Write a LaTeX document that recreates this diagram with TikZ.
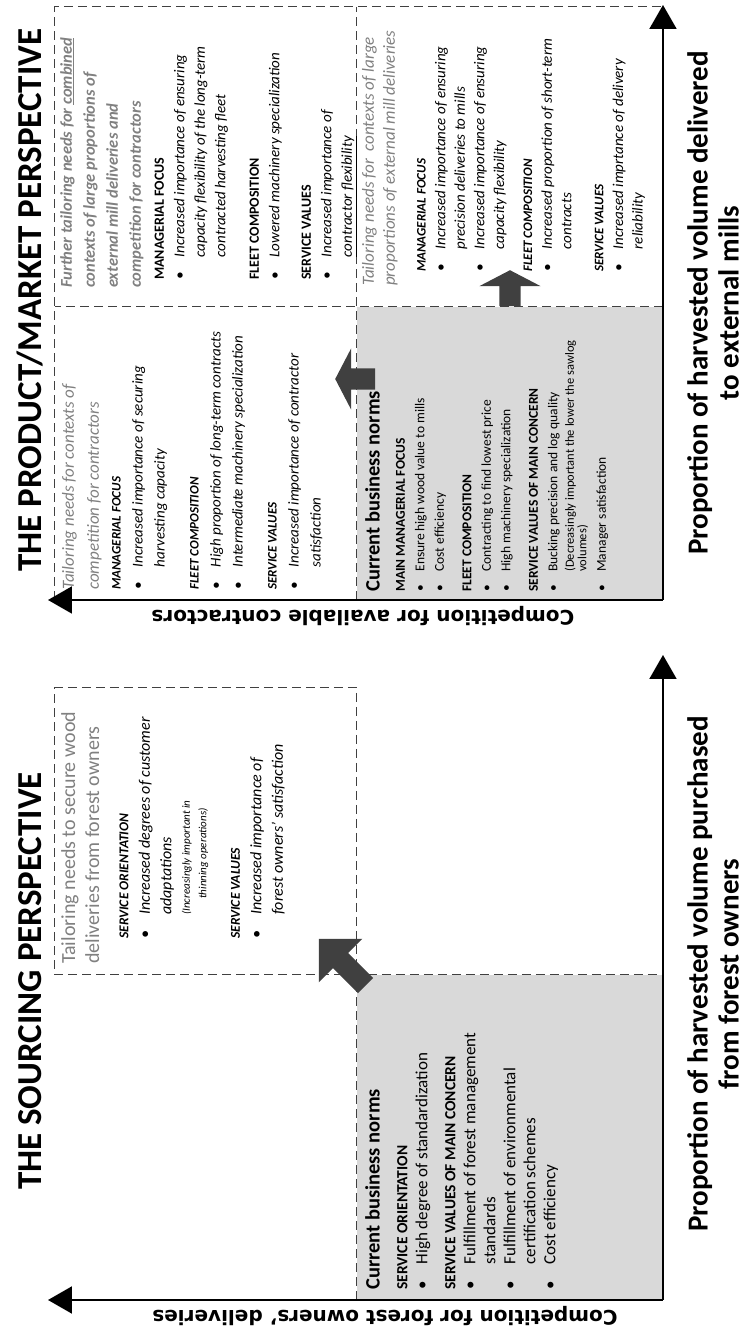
\documentclass[tikz,border=0pt]{standalone}
\usepackage{fontspec}
\setmainfont{Carlito}
\newfontfamily\axisfont{DejaVu Sans}
\usepackage{tikz}
\usetikzlibrary{calc,positioning,arrows.meta,shapes.arrows}
\definecolor{boxgray}{RGB}{217,217,217}
\definecolor{arrgray}{RGB}{64,64,64}
\definecolor{txtgray}{RGB}{128,128,128}
\newcommand{\bul}{\makebox[1.5em][l]{\textbullet}}
\newcommand{\cont}{\hspace*{1.5em}}
\newcommand{\sect}[2][13]{{\bfseries\fontsize{#1}{14}\selectfont #2}}
\newcommand{\sectup}[2][14]{{\upshape\bfseries\fontsize{#1}{14}\selectfont #2}}
\newcommand{\note}[2][12.5]{{\fontsize{#1}{11}\selectfont #2}}

\begin{document}
\begin{tikzpicture}[x=1pt,y=1pt,rotate=90,transform shape,
    axis/.style={line width=2pt,-{Triangle[length=24pt,width=27pt]}},
    dashbox/.style={draw=arrgray,line width=1pt,dash pattern=on 9pt off 5pt},
    blockarr/.style={single arrow,fill=arrgray,inner xsep=0pt,inner ysep=10.5pt,single arrow head extend=20pt},
    title/.style={font=\fontsize{35}{38}\selectfont\bfseries},
    xlab/.style={font=\fontsize{29}{31}\selectfont\bfseries,align=center,inner sep=0pt},
    ylab/.style={font=\axisfont\bfseries\fontsize{20}{24}\selectfont,rotate=90,inner sep=0pt},
    hdr/.style={font=\fontsize{20.5}{24}\selectfont\bfseries,inner sep=0pt,align=left,anchor=north west},
    tailhdr/.style={font=\fontsize{17}{25}\selectfont\itshape,text=txtgray,inner sep=0pt,align=left,anchor=north west},
    bodyup/.style={font=\fontsize{13.5}{19.5}\selectfont,inner sep=0pt,align=left,anchor=north west},
    bodyit/.style={font=\fontsize{15}{22}\selectfont\itshape,inner sep=0pt,align=left,anchor=north west}]

\useasboundingbox (0,0) rectangle (1326,745);

% sourcing panel
\coordinate (oL) at (26,82);
\coordinate (yL) at (26,697);
\coordinate (xL) at (671,82);
\coordinate (cL) at (351,388);
\coordinate (tL) at (638,690);
\fill[boxgray] (oL) rectangle (cL);
\draw[dashbox] (oL |- cL) -- (cL) -- (cL |- oL);
\draw[dashbox] (cL) rectangle (tL);
\draw[axis] (oL) -- (yL);
\draw[axis] (oL) -- (xL);

% product/market panel
\coordinate (oR) at (726,82);
\coordinate (yR) at (726,697);
\coordinate (xR) at (1321,82);
\coordinate (cR) at (1019,388);
\coordinate (tR) at (1319,690);
\fill[boxgray] (oR) rectangle (cR);
\draw[dashbox] (oR |- tR) -- (tR) -- (tR |- oR);
\draw[dashbox] (cR |- oR) -- (cR |- tR);
\draw[dashbox] (oR |- cR) -- (tR |- cR);
\draw[axis] (oR) -- (yR);
\draw[axis] (oR) -- (xR);

% titles and axis labels
\node[title] (ttL) at (345,715) {THE SOURCING PERSPECTIVE};
\node[title] (ttR) at (1026,715) {THE PRODUCT/MARKET PERSPECTIVE};
\node[xlab,anchor=north] (xlL) at (352,58) {Proportion of harvested volume purchased\\from forest owners};
\node[xlab,anchor=north] (xlR) at (1023,58) {Proportion of harvested volume delivered\\to external mills};
\node[ylab] (ylL) at (10,360) {Competition for forest owners’ deliveries};
\node[ylab] (ylR) at (710,382) {Competition for available contractors};

% block arrows
\node[blockarr,minimum height=66pt,rotate=45] (arL) at (360,399) {};
\node[blockarr,minimum height=40pt,single arrow tip angle=125,rotate=90] (arU) at (947,387) {};
\node[blockarr,minimum height=36pt,single arrow tip angle=125] (arR) at (1035,235) {};

% sourcing texts
\node[hdr] (cnL) at (36,380) {Current business norms};
\node[bodyup,font=\fontsize{17}{20}\selectfont,below=17pt of cnL.south west,anchor=north west] (cnLb) {\sect[15.5]{SERVICE ORIENTATION}\\
\bul High degree of standardization\\[8pt]
\sect[15.5]{SERVICE VALUES OF MAIN CONCERN}\\
\bul Fulfillment of forest management\\
\cont standards\\
\bul Fulfillment of environmental\\
\cont certification schemes\\
\bul Cost efficiency};
\node[tailhdr,font=\fontsize{20}{24}\selectfont] (tnL) at (362,684) {Tailoring needs to secure wood\\deliveries from forest owners};
\node[bodyit,font=\fontsize{16}{21.5}\selectfont\itshape,below=20pt of tnL.south west,anchor=north west,xshift=25pt] (tnLb) {\sect[13.5]{SERVICE ORIENTATION}\\
\bul Increased degrees of customer\\
\cont adaptations\\[-3pt]
\cont\note[11]{(Increasingly important in}\\[-5pt]
\cont\hspace*{1em}\note[11]{thinning operations)}\\[12pt]
\sect[13.5]{SERVICE VALUES}\\
\bul Increased importance of\\
\cont forest owners’ satisfaction};

% product/market texts
\node[hdr] (cnR) at (734,380) {Current business norms};
\node[bodyup,below=16pt of cnR.south west,anchor=north west] (cnRb) {\sect[13.5]{MAIN MANAGERIAL FOCUS}\\
\bul Ensure high wood value to mills\\
\bul Cost efficiency\\[8pt]
\sect[13.5]{FLEET COMPOSITION}\\
\bul Contracting to find lowest price\\
\bul High machinery specialization\\[8pt]
\sect[13.5]{SERVICE VALUES OF MAIN CONCERN}\\
\bul Bucking precision and log quality\\[-3pt]
\cont\note{(Decreasingly important the lower the sawlog}\\[-7pt]
\cont\note{volumes)}\\
\bul Manager satisfaction};

\node[tailhdr] (tnTL) at (736,683) {Tailoring needs for contexts of\\competition for contractors};
\node[bodyit,below=10pt of tnTL.south west,anchor=north west] (tnTLb) {\sect{MANAGERIAL FOCUS}\\
\bul Increased importance of securing\\
\cont harvesting capacity\\[12pt]
\sect{FLEET COMPOSITION}\\
\bul High proportion of long-term contracts\\
\bul Intermediate machinery specialization\\[12pt]
\sect{SERVICE VALUES}\\
\bul Increased importance of contractor\\
\cont satisfaction};

\node[tailhdr,font=\fontsize{16.5}{23}\selectfont\bfseries\itshape] (tnTR) at (1038,685) {Further tailoring needs for \underline{combined}\\contexts of large proportions of\\external mill deliveries and\\competition for contractors};
\node[bodyit,font=\fontsize{15}{20.5}\selectfont\itshape,below=11pt of tnTR.south west,anchor=north west,xshift=8pt] (tnTRb) {\sectup{MANAGERIAL FOCUS}\\
\bul Increased importance of ensuring\\
\cont capacity flexibility of the long-term\\
\cont contracted harvesting fleet\\[13pt]
\sectup{FLEET COMPOSITION}\\
\bul Lowered machinery specialization\\[11pt]
\sectup{SERVICE VALUES}\\
\bul Increased importance of\\
\cont \underline{contractor flexibility}};

\node[tailhdr,font=\fontsize{17}{21}\selectfont\itshape] (tnBR) at (1040,383) {Tailoring needs for\ \ contexts of large\\proportions of external mill deliveries};
\node[bodyit,font=\fontsize{15}{19.6}\selectfont\itshape,below=19pt of tnBR.south west,anchor=north west,xshift=14pt] (tnBRb) {\sect{MANAGERIAL FOCUS}\\
\bul Increased importance of ensuring\\
\cont precision deliveries to mills\\
\bul Increased importance of ensuring\\
\cont capacity flexibility\\[8.5pt]
\sect{FLEET COMPOSITION}\\
\bul Increased proportion of short-term\\
\cont contracts\\[12.5pt]
\sect{SERVICE VALUES}\\
\bul Increased imprtance of delivery\\
\cont reliability};
\end{tikzpicture}
\end{document}
